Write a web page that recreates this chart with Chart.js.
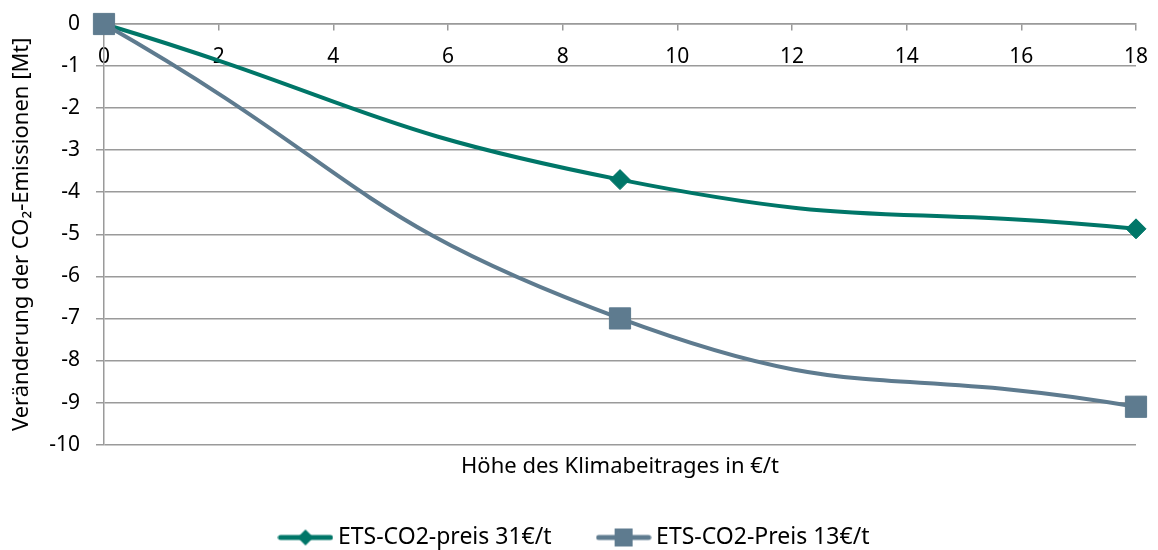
<!DOCTYPE html>
<html lang="de">
<head>
<meta charset="utf-8">
<title>Klimabeitrag und CO2-Emissionen</title>
<script src="https://cdn.jsdelivr.net/npm/chart.js@4.4.1/dist/chart.umd.min.js"></script>
<style>
  html, body { margin: 0; padding: 0; background: #fff; }
</style>
</head>
<body>
<canvas id="myChart" width="1158" height="550"></canvas>
<script>
// Höhe des Klimabeitrages in €/t
const klimabeitrag = [0, 9, 18];
// Veränderung der CO2-Emissionen in Mt
const preis31 = [0, -3.7, -4.87];
const preis13 = [0, -7.0, -9.1];
const seriesNames = ["ETS-CO2-preis 31€/t", "ETS-CO2-Preis 13€/t"];
const xTicks = [0, 2, 4, 6, 8, 10, 12, 14, 16, 18];
const yTicks = [0, -1, -2, -3, -4, -5, -6, -7, -8, -9, -10];

const GREEN = "#007668";
const BLUE = "#5E7B8F";
const GRID = "#9A9A9A";
const TICK_FONT = { family: "'Noto Sans', sans-serif", size: 21 };
const LABEL_FONT = { family: "'Noto Sans', sans-serif", size: 22 };
const LEGEND_FONT = { family: "'Noto Sans', sans-serif", size: 23 };

const chartApp = (function () {
  function points(ys) {
    return klimabeitrag.map((x, i) => ({ x: x, y: ys[i] }));
  }

  // small line + marker symbols for the legend
  function legendSymbol(color, shape) {
    const c = document.createElement("canvas");
    c.width = 56;
    c.height = 24;
    const g = c.getContext("2d");
    g.strokeStyle = color;
    g.fillStyle = color;
    g.lineWidth = 5;
    g.lineCap = "round";
    g.beginPath();
    g.moveTo(3, 12);
    g.lineTo(53, 12);
    g.stroke();
    if (shape === "diamond") {
      g.beginPath();
      g.moveTo(28, 4);
      g.lineTo(36, 12);
      g.lineTo(28, 20);
      g.lineTo(20, 12);
      g.closePath();
      g.fill();
    } else {
      g.fillRect(19, 3, 18, 18);
    }
    return c;
  }

  const legendIcons = [legendSymbol(GREEN, "diamond"), legendSymbol(BLUE, "square")];

  // fixed legend box, nudged right and up after layout, reaching the bottom edge
  const legendPlace = {
    id: "legendPlace",
    beforeInit(chart) {
      const fit = chart.legend.fit;
      chart.legend.fit = function () {
        fit.call(this);
        this.height = 70;
      };
    },
    afterLayout(chart) {
      const lg = chart.legend;
      lg.left += 7;
      lg.right += 7;
      lg.top -= 5;
      lg.bottom = chart.height;
      lg.height = lg.bottom - lg.top;
    },
  };

  function initChart() {
    const ctx = document.getElementById("myChart");

    new Chart(ctx, {
      type: "line",
      data: {
        datasets: [
          {
            label: seriesNames[0],
            data: points(preis31),
            borderColor: GREEN,
            backgroundColor: GREEN,
            borderWidth: 4,
            pointStyle: "rectRot",
            pointRadius: 10,
            pointBorderWidth: 1,
            tension: 0.5,
            clip: false,
            order: 1,
          },
          {
            label: seriesNames[1],
            data: points(preis13),
            borderColor: BLUE,
            backgroundColor: BLUE,
            borderWidth: 4,
            pointStyle: "rect",
            pointRadius: 15,
            pointBorderWidth: 1,
            tension: 0.5,
            clip: false,
            order: 0,
          },
        ],
      },
      options: {
        responsive: false,
        animation: false,
        events: [],
        layout: {
          padding: { left: 4, right: 22, top: 24, bottom: 0 },
        },
        scales: {
          x: {
            type: "linear",
            position: { y: 0 },
            min: 0,
            max: 18,
            afterBuildTicks: (scale) => {
              scale.ticks = xTicks.map((v) => ({ value: v }));
            },
            afterFit: (scale) => {
              scale.height = 0;
              scale.paddingLeft = 0;
              scale.paddingRight = 0;
            },
            ticks: {
              font: TICK_FONT,
              color: "#000",
              padding: 14,
              maxRotation: 0,
              callback: (v) => String(v),
            },
            grid: {
              drawOnChartArea: false,
              drawTicks: true,
              tickLength: 6,
              color: GRID,
              lineWidth: 1.5,
            },
            border: { color: GRID, width: 1.5 },
          },
          xTitle: {
            type: "linear",
            axis: "x",
            position: "bottom",
            min: 0,
            max: 18,
            ticks: { display: false },
            grid: { display: false, drawTicks: false },
            border: { display: false },
            title: {
              display: true,
              text: "Höhe des Klimabeitrages in €/t",
              font: LABEL_FONT,
              color: "#000",
              padding: { top: 9, bottom: 0 },
            },
          },
          y: {
            position: "left",
            min: -10,
            max: 0,
            afterBuildTicks: (scale) => {
              scale.ticks = yTicks.map((v) => ({ value: v }));
            },
            afterFit: (scale) => {
              scale.width = 100;
              scale.paddingTop = 0;
              scale.paddingBottom = 0;
            },
            ticks: {
              font: TICK_FONT,
              color: "#000",
              padding: 16,
              callback: (v) => String(v),
            },
            grid: {
              color: GRID,
              lineWidth: 1.5,
              tickLength: 8,
            },
            border: { color: GRID, width: 1.5 },
            title: {
              display: true,
              text: "Veränderung der CO₂-Emissionen [Mt]",
              font: LABEL_FONT,
              color: "#000",
              padding: { top: 5, bottom: 0 },
            },
          },
        },
        plugins: {
          tooltip: { enabled: false },
          legend: {
            position: "bottom",
            labels: {
              font: LEGEND_FONT,
              color: "#000",
              usePointStyle: true,
              pointStyleWidth: 42,
              padding: 51,
              sort: (a, b) => a.datasetIndex - b.datasetIndex,
              generateLabels: (chart) => {
                const items = Chart.defaults.plugins.legend.labels.generateLabels(chart);
                items.forEach((it) => {
                  it.pointStyle = legendIcons[it.datasetIndex];
                });
                return items;
              },
            },
          },
        },
      },
      plugins: [legendPlace],
    });
  }

  return {
    init: function () {
      initChart();
    },
  };
})();

chartApp.init();
</script>
</body>
</html>
